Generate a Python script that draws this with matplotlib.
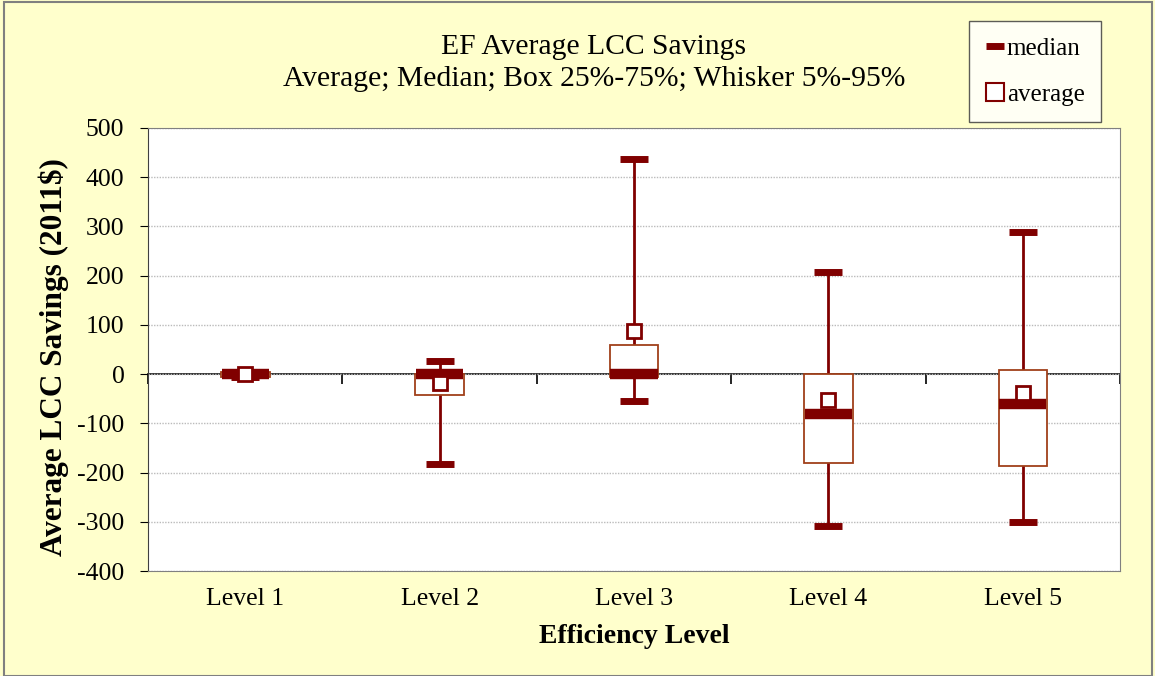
import numpy as np
import matplotlib
matplotlib.use('Agg')
import matplotlib.pyplot as plt
from matplotlib.lines import Line2D
from matplotlib.patches import Rectangle

levels = ['Level 1', 'Level 2', 'Level 3', 'Level 4', 'Level 5']
p5 = [-5, -183, -55, -308, -300]
q25 = [-5, -43, -5, -181, -187]
median = [0, 0, 0, -81, -61]
average = [0, -18, 87, -53, -38]
q75 = [5, 0, 59, 0, 8]
p95 = [5, 26, 437, 208, 289]

DARK = '#800000'
BOXEDGE = '#A0401A'
SERIF = ['Liberation Serif', 'DejaVu Serif']

plt.rcParams['font.family'] = SERIF
plt.rcParams['axes.unicode_minus'] = False

fig = plt.figure(figsize=(11.55, 6.76), dpi=100)
fig.patch.set_facecolor('#FFFFCC')
fig.patches.append(Rectangle((4 / 1155, 0.5 / 676), 1148 / 1155, 674 / 676,
                             transform=fig.transFigure, fill=False,
                             edgecolor='#808080', lw=1.5))

ax = fig.add_axes([148 / 1155, 1 - 571 / 676, 972 / 1155, 443 / 676])
ax.set_facecolor('white')

x = np.arange(len(levels))
ylo, yhi = -400, 500

# whiskers and caps
ax.vlines(x, p5, p95, color=DARK, lw=2, zorder=2)
ax.hlines(p5, x - 0.072, x + 0.072, color=DARK, lw=5, zorder=3)
ax.hlines(p95, x - 0.072, x + 0.072, color=DARK, lw=5, zorder=3)

# boxes
heights = np.array(q75) - np.array(q25)
ax.bar(x, heights, bottom=q25, width=0.25, facecolor='white',
       edgecolor=BOXEDGE, lw=1.3, zorder=4)

# median and average
ax.hlines(median, x - 0.121, x + 0.121, color=DARK, lw=7.5, zorder=5)
ax.plot(x, average, 's', ms=10, mfc='white', mec=DARK, mew=2, zorder=6)

ax.set_xlim(-0.5, len(levels) - 0.5)
ax.set_ylim(ylo, yhi)
ax.set_yticks(np.arange(ylo, yhi + 1, 100))
ax.yaxis.grid(True, color='#BBBBBB', ls=(0, (1, 1)), lw=1)
ax.set_axisbelow(True)
ax.tick_params(axis='y', direction='out', length=6, pad=11, labelsize=18.5)
ax.set_xticks(x)
ax.set_xticklabels(levels)
ax.tick_params(axis='x', length=0, pad=12, labelsize=18.5)

for side in ['top', 'right', 'bottom']:
    ax.spines[side].set_color('#808080')
ax.spines['left'].set_color('#404040')

# category axis crossing at zero
zero_frac = (0 - ylo) / (yhi - ylo)
sec = ax.secondary_xaxis(zero_frac)
sec.set_xticks(np.arange(len(levels) + 1) - 0.5)
sec.tick_params(direction='out', length=7, labelbottom=False, labeltop=False,
                bottom=True, top=False, color='black', width=1.2)
sec.spines['bottom'].set_color('#222222')
sec.spines['bottom'].set_linewidth(1.3)
sec.xaxis.set_ticks_position('bottom')
sec.set_xticklabels([])

ax.set_ylabel('Average LCC Savings (2011$)', fontsize=22.5, fontweight='bold')
ax.yaxis.set_label_coords(-(148 - 69) / 972, (571 - 357) / 443)
ax.set_xlabel('Efficiency Level', fontsize=20, fontweight='bold', labelpad=10)

fig.text(594 / 1155, 1 - 63 / 676,
         'EF Average LCC Savings\nAverage; Median; Box 25%-75%; Whisker 5%-95%',
         ha='center', va='center', fontsize=21.3, linespacing=1.3)

handles = [Line2D([], [], color=DARK, lw=5, solid_capstyle='butt'),
           Line2D([], [], ls='none', marker='s', ms=13, mfc='white',
                  mec=DARK, mew=1.5)]
leg = fig.legend(handles, ['median', 'average'], loc='upper right',
                 bbox_to_anchor=(1101 / 1155, 1 - 21 / 676),
                 fontsize=18, frameon=True, fancybox=False,
                 handlelength=0.75, handletextpad=0.1, labelspacing=0.95,
                 borderpad=0.65, borderaxespad=0)
leg.get_frame().set_edgecolor('#333333')
leg.get_frame().set_linewidth(1)

fig.savefig('out.png', dpi=100, facecolor=fig.get_facecolor())
